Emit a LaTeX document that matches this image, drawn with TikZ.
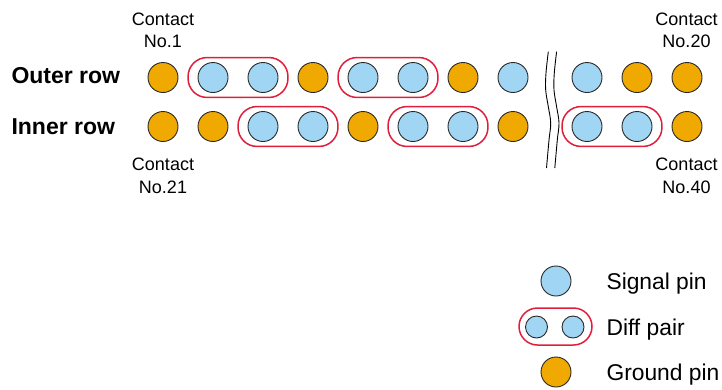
\documentclass[tikz,border=0pt]{standalone}
\usepackage{fontspec}
\setmainfont{Liberation Sans}
\usetikzlibrary{fit}
\definecolor{gndc}{RGB}{240,169,0}
\definecolor{sigc}{RGB}{160,214,243}
\definecolor{pairc}{RGB}{224,30,60}
\definecolor{pinline}{RGB}{40,40,40}
\begin{document}
\begin{tikzpicture}[x=1pt,y=-1pt,
  pin/.style={circle, draw=pinline, line width=0.9pt, minimum size=30pt, inner sep=0pt},
  gnd/.style={pin, fill=gndc},
  sig/.style={pin, fill=sigc},
  sigsmall/.style={pin, fill=sigc, minimum size=22pt},
  pairbox/.style={draw=pairc, line width=1.5pt, rounded corners=19pt, inner xsep=9.5pt, inner ysep=4.5pt},
  brk/.style={draw=black, line width=0.9pt},
  contact/.style={font=\fontsize{18}{22}\selectfont, anchor=base},
  rowlab/.style={font=\fontsize{23}{27}\selectfont\bfseries, anchor=base west},
  legtext/.style={font=\fontsize{22.8}{27}\selectfont, anchor=base west}]
\useasboundingbox (0,0) rectangle (722,389);

% row labels
\node[rowlab] (outerlab) at (8,83.3) {Outer row};
\node[rowlab] (innerlab) at (8,134.3) {Inner row};

% pins
\foreach \x/\t [count=\k] in {163/gnd,213/sig,263/sig,313/gnd,363/sig,413/sig,463/gnd,513/sig,587/sig,637/gnd,687/gnd}
  \node[\t] (o\k) at (\x,77.5) {};
\foreach \x/\t [count=\k] in {163/gnd,213/gnd,263/sig,313/sig,363/gnd,413/sig,463/sig,513/gnd,587/sig,637/sig,687/gnd}
  \node[\t] (i\k) at (\x,126.5) {};

% differential pairs
\node[pairbox, fit=(o2)(o3)] (po1) {};
\node[pairbox, fit=(o5)(o6)] (po2) {};
\node[pairbox, fit=(i3)(i4)] (pi1) {};
\node[pairbox, fit=(i6)(i7)] (pi2) {};
\node[pairbox, fit=(i9)(i10)] (pi3) {};

% break marks
\draw[brk] plot[smooth, tension=0.6] coordinates {(548.3,51.7) (546,73) (545.7,90) (548.3,106.7) (550.7,123) (549,140) (546.5,168)};
\draw[brk] plot[smooth, tension=0.6] coordinates {(556.6,51.7) (554.3,73) (554,90) (556.6,106.7) (559,123) (557.3,140) (554.8,168)};

% contact labels
\node[contact] (c1a) at (163,25.7) {Contact};
\node[contact] (c1b) at (163,47.5) {No.1};
\node[contact] (c20a) at (686.5,25.7) {Contact};
\node[contact] (c20b) at (686.5,47.5) {No.20};
\node[contact] (c21a) at (163,170.7) {Contact};
\node[contact] (c21b) at (163,193.5) {No.21};
\node[contact] (c40a) at (686.5,170.7) {Contact};
\node[contact] (c40b) at (686.5,193.5) {No.40};

% legend
\node[sig] (lsig) at (556,281) {};
\node[draw=pairc, line width=1.5pt, rounded corners=18.5pt, minimum width=73pt, minimum height=37pt, inner sep=0pt] (lpair) at (555.5,326.5) {};
\node[sigsmall] (lp1) at (536.5,327) {};
\node[sigsmall] (lp2) at (573,327) {};
\node[gnd] (lgnd) at (556,372) {};
\node[legtext] (tsig) at (603,289.3) {Signal pin};
\node[legtext] (tpair) at (603,335) {Diff pair};
\node[legtext] (tgnd) at (603,380) {Ground pin};
\end{tikzpicture}
\end{document}
